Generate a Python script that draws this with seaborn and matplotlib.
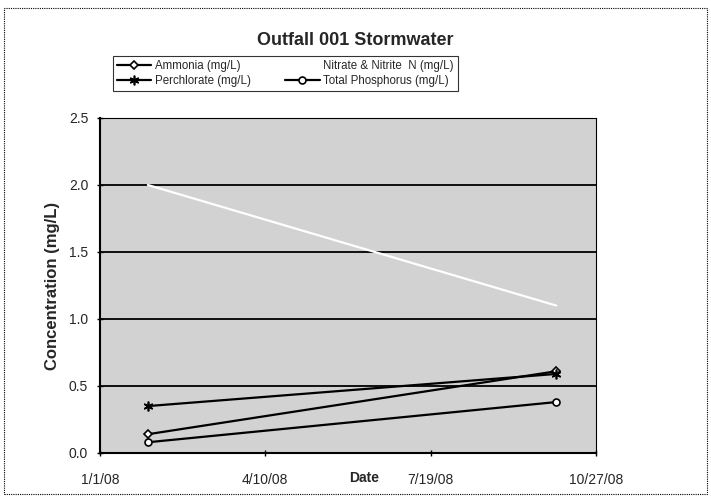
import matplotlib
matplotlib.use("Agg")
import matplotlib.pyplot as plt
import pandas as pd
import seaborn as sns

dates = ["2008-01-30", "2008-10-03"]
ammonia = [0.14, 0.61]
perchlorate = [0.35, 0.59]
nitrate = [2.00, 1.10]
total_p = [0.08, 0.38]
series_names = ["Ammonia (mg/L)", "Perchlorate (mg/L)",
                "Nitrate & Nitrite  N (mg/L)", "Total Phosphorus (mg/L)"]
x_ticks = ["2008-01-01", "2008-04-10", "2008-07-19", "2008-10-27"]
y_ticks = [0.0, 0.5, 1.0, 1.5, 2.0, 2.5]

sns.set_theme(style="white")
plt.rcParams["font.family"] = ["Liberation Sans", "DejaVu Sans"]

frames = []
for name, vals in zip(series_names, [ammonia, perchlorate, nitrate, total_p]):
    frames.append(pd.DataFrame({"Date": pd.to_datetime(dates), "Value": vals, "Series": name}))
df = pd.concat(frames, ignore_index=True)

fig = plt.figure(figsize=(7.11, 4.98), dpi=100)
ax = fig.add_axes([0.1406, 0.0904, 0.6976, 0.6727])
ax.set_facecolor("#d2d2d2")

styles = {
    series_names[0]: dict(color="black", marker="D", markersize=4, mfc="white", mec="black"),
    series_names[1]: dict(color="black", marker=(6, 2, 0), markersize=7, mfc="black", mec="black"),
    series_names[2]: dict(color="white", marker=None),
    series_names[3]: dict(color="black", marker="o", markersize=5, mfc="white", mec="black"),
}

for y in y_ticks[1:-1]:
    ax.axhline(y, color="black", lw=1.3, zorder=1)

for name in series_names:
    st = styles[name]
    sub = df[df["Series"] == name]
    sns.lineplot(data=sub, x="Date", y="Value", ax=ax, color=st["color"], lw=1.6,
                 marker=st["marker"], markersize=st.get("markersize", 0),
                 markerfacecolor=st.get("mfc", "white"), markeredgecolor=st.get("mec", "white"),
                 markeredgewidth=1.2, label=name, zorder=3, legend=False)

ax.set_xlim(pd.Timestamp(x_ticks[0]), pd.Timestamp(x_ticks[-1]))
ax.set_ylim(0, 2.5)
ax.set_xticks(pd.to_datetime(x_ticks))
ax.set_xticklabels([f"{d.month}/{d.day}/{d.strftime('%y')}" for d in pd.to_datetime(x_ticks)], fontsize=10)
ax.set_yticks(y_ticks)
ax.set_yticklabels([f"{v:.1f}" for v in y_ticks], fontsize=10)
ax.tick_params(axis="x", direction="inout", length=5, width=1, color="black", bottom=True, pad=12)
ax.tick_params(axis="y", direction="inout", length=5, width=1, color="black", left=True, pad=6)

for s in ["left", "bottom"]:
    ax.spines[s].set_color("black")
    ax.spines[s].set_linewidth(1.5)
for s in ["top", "right"]:
    ax.spines[s].set_color("black")
    ax.spines[s].set_linewidth(0.8)
    ax.spines[s].set_linestyle((0, (1, 1)))

ax.set_ylabel("Concentration (mg/L)", fontsize=12, fontweight="bold", labelpad=6)
ax.set_xlabel("")
fig.text(0.512, 0.040, "Date", ha="center", va="center", fontsize=10, fontweight="bold")

fig.suptitle("Outfall 001 Stormwater", x=0.5, y=0.935, fontsize=13, fontweight="bold")

handles = [h for h in ax.get_lines() if h.get_label() in series_names]
labels = [h.get_label() for h in handles]
leg = fig.legend(handles, labels, ncol=2, loc="center", bbox_to_anchor=(0.401, 0.852),
                 fontsize=8.3, frameon=True, fancybox=False, edgecolor="black",
                 borderpad=0.35, handlelength=3.0, columnspacing=3.0, labelspacing=0.25,
                 handletextpad=0.3)
leg.get_frame().set_linewidth(0.8)

border = plt.Rectangle((0.006, 0.008), 0.988, 0.975, transform=fig.transFigure,
                       fill=False, edgecolor="black", lw=0.8, linestyle=(0, (1, 1)))
fig.add_artist(border)

fig.savefig("out.png", dpi=100)
